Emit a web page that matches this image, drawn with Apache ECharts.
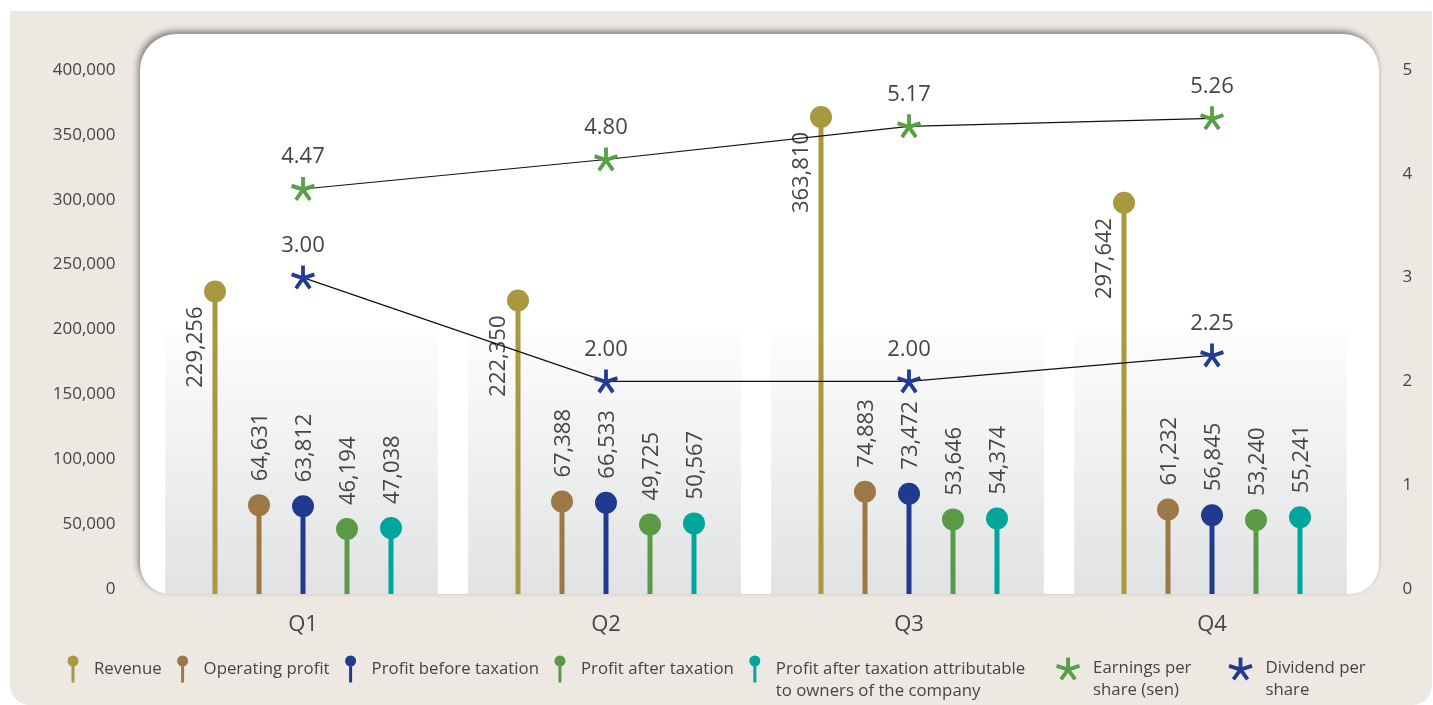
<!DOCTYPE html>
<html><head><meta charset="utf-8">
<script src="https://cdn.jsdelivr.net/npm/echarts@6/dist/echarts.min.js"></script>
<style>html,body{margin:0;padding:0;background:#fff;} #c{width:1433px;height:705px;}</style>
</head><body><div id="c"></div>
<script>
// ---- data ----
const categories = ['Q1', 'Q2', 'Q3', 'Q4'];
const revenue = [229256, 222350, 363810, 297642];
const operatingProfit = [64631, 67388, 74883, 61232];
const profitBeforeTax = [63812, 66533, 73472, 56845];
const profitAfterTax = [46194, 49725, 53646, 53240];
const profitAttributable = [47038, 50567, 54374, 55241];
const earningsPerShare = [4.47, 4.80, 5.17, 5.26];
const dividendPerShare = [3.00, 2.00, 2.00, 2.25];
const leftAxisTicks = { min: 0, max: 400000, step: 50000 };
const rightAxisTicks = { min: 0, max: 5, step: 1 };

// ---- styling ----
const FONT = '"Open Sans", "Noto Sans", sans-serif';
const TXT = '#454545';
const BAND_TOP = 200000;
const EPS_AXIS_MAX = 5.8;

function starBody(n, L, w) {
  let d = '';
  for (let k = 0; k < n; k++) {
    const a = k * 2 * Math.PI / n;
    const ux = Math.sin(a), uy = -Math.cos(a);
    const px = -uy, py = ux;
    const b = -w * 0.6;
    const pts = [
      [-px * w + ux * b, -py * w + uy * b],
      [px * w + ux * b, py * w + uy * b],
      [px * w + ux * L, py * w + uy * L],
      [-px * w + ux * L, -py * w + uy * L]
    ];
    d += 'M' + pts.map(p => p[0].toFixed(2) + ',' + p[1].toFixed(2)).join('L') + 'Z';
  }
  return d;
}
const STAR = 'path://' + starBody(5, 12, 1.9);
// legend icons: visible part at the top, an invisible zero-area point below so the
// icon lines up with the first line of a two-line legend text
const STAR_LEGEND = 'path://' + starBody(5, 12, 1.9) + 'M0,31.7L0.01,31.7Z';
const LOLLI_LEGEND = 'path://M0,5.5A5.5,5.5 0 1 1 11,5.5A5.5,5.5 0 1 1 0,5.5Z M4,6L7,6L7,27L4,27Z M5.5,49L5.51,49Z';

const lollipops = [
  { name: 'Revenue', data: revenue, color: '#a8993f', labelLeft: true },
  { name: 'Operating profit', data: operatingProfit, color: '#9c7846', labelLeft: false },
  { name: 'Profit before taxation', data: profitBeforeTax, color: '#1f3a8e', labelLeft: false },
  { name: 'Profit after taxation', data: profitAfterTax, color: '#5a9a47', labelLeft: false },
  { name: 'Profit after taxation attributable to owners of the company', data: profitAttributable, color: '#00a69c', labelLeft: false }
];

function lollipopRender(k, labelLeft) {
  return function (params, api) {
    const i = api.value(0), v = api.value(1);
    const catW = api.size([1, 0])[0];
    const dx = (k - 2) * catW * 0.1452;
    const top = api.coord([i, v]);
    const base = api.coord([i, 0]);
    const x = top[0] + dx, y = top[1];
    const color = api.visual('color');
    const txt = v.toLocaleString('en-US');
    const lab = labelLeft ? { x: x - 19, y: y + 15, align: 'right' } : { x: x + 2, y: y - 24, align: 'left' };
    return {
      type: 'group',
      children: [
        { type: 'rect', shape: { x: x - 2.5, y: y, width: 5, height: base[1] - y + 5 }, style: { fill: color } },
        { type: 'circle', shape: { cx: x, cy: y, r: 11 }, style: { fill: color } },
        { type: 'text', x: lab.x, y: lab.y, rotation: Math.PI / 2,
          style: { text: txt, fill: TXT, fontSize: 22, fontFamily: FONT, align: lab.align, verticalAlign: 'middle' } }
      ]
    };
  };
}

const series = [];
series.push({
  name: 'band', type: 'custom', xAxisIndex: 0, yAxisIndex: 0, silent: true, z: 1,
  data: categories.map((c, i) => [i, BAND_TOP]),
  renderItem: function (params, api) {
    const i = api.value(0);
    const w = api.size([1, 0])[0] * 0.9;
    const top = api.coord([i, api.value(1)]);
    const base = api.coord([i, 0]);
    return {
      type: 'rect',
      shape: { x: top[0] - w / 2 - 1.5, y: top[1], width: w, height: base[1] - top[1] + 5 },
      style: { fill: new echarts.graphic.LinearGradient(0, 0, 0, 1, [
        { offset: 0, color: '#fdfdfd' }, { offset: 1, color: '#e1e2e3' }]) }
    };
  }
});
lollipops.forEach((s, k) => {
  series.push({
    name: s.name, type: 'custom', xAxisIndex: 0, yAxisIndex: 0, z: 3,
    itemStyle: { color: s.color }, color: s.color,
    data: s.data.map((v, i) => [i, v]),
    renderItem: lollipopRender(k, s.labelLeft)
  });
});
const lineLabel = { show: true, position: 'top', distance: 9, fontSize: 22, fontFamily: FONT, color: TXT,
  formatter: p => Number(p.value).toFixed(2) };
series.push({
  name: 'Earnings per share (sen)', type: 'line', yAxisIndex: 2, data: earningsPerShare,
  symbol: STAR, symbolSize: 24, color: '#56a046', itemStyle: { color: '#56a046' },
  lineStyle: { color: '#111', width: 1.2 }, label: lineLabel, z: 6
});
series.push({
  name: 'Dividend per share', type: 'line', yAxisIndex: 1, data: dividendPerShare,
  symbol: STAR, symbolSize: 24, color: '#213c90', itemStyle: { color: '#213c90' },
  lineStyle: { color: '#111', width: 1.2 }, label: lineLabel, z: 6
});

const legendNames = {
  'Profit after taxation attributable to owners of the company': 'Profit after taxation attributable\nto owners of the company',
  'Earnings per share (sen)': 'Earnings per\nshare (sen)',
  'Dividend per share': 'Dividend per\nshare'
};
const legendText = n => legendNames[n] || (n + '\n ');

const option = {
  backgroundColor: '#ffffff',
  animation: false,
  textStyle: { fontFamily: FONT },
  graphic: [
    { type: 'rect', z: -20, silent: true, shape: { x: 10, y: 11, width: 1422, height: 694, r: [0, 0, 20, 20] }, style: { fill: '#ede8e2' } },
    { type: 'rect', z: -19, silent: true, shape: { x: 140, y: 34, width: 1239, height: 560, r: [36, 36, 30, 30] },
      style: { fill: '#ffffff', shadowBlur: 6, shadowOffsetX: -2, shadowOffsetY: -3, shadowColor: 'rgba(0,0,0,0.45)' } }
  ],
  grid: { left: 151.5, right: 69.5, top: 70, bottom: 116 },
  xAxis: [{
    type: 'category', data: categories,
    axisLine: { show: false }, axisTick: { show: false }, splitLine: { show: false },
    axisLabel: { fontSize: 22, color: TXT, margin: 25, fontFamily: FONT }
  }],
  yAxis: [
    { type: 'value', position: 'left', min: leftAxisTicks.min, max: leftAxisTicks.max, interval: leftAxisTicks.step,
      axisLine: { show: false }, axisTick: { show: false }, splitLine: { show: false },
      axisLabel: { fontSize: 17, color: TXT, margin: 36, fontFamily: FONT, formatter: v => v.toLocaleString('en-US') } },
    { type: 'value', position: 'right', min: rightAxisTicks.min, max: rightAxisTicks.max, interval: rightAxisTicks.step,
      axisLine: { show: false }, axisTick: { show: false }, splitLine: { show: false },
      axisLabel: { fontSize: 17, color: TXT, margin: 39, fontFamily: FONT } },
    { type: 'value', show: false, min: 0, max: EPS_AXIS_MAX, splitLine: { show: false } }
  ],
  legend: [
    {
      left: 67.5, top: 655.5, padding: 0, itemWidth: 32, itemHeight: 49, itemGap: 15.5,
      selectedMode: false, orient: 'horizontal',
      textStyle: { fontSize: 16.8, color: TXT, fontFamily: FONT, lineHeight: 22 },
      formatter: legendText,
      data: lollipops.map(s => ({ name: s.name, icon: LOLLI_LEGEND }))
    },
    {
      left: 1056, top: 657.5, padding: 0, itemWidth: 40, itemHeight: 44, itemGap: 37,
      selectedMode: false, orient: 'horizontal',
      textStyle: { fontSize: 16.8, color: TXT, fontFamily: FONT, lineHeight: 22 },
      formatter: legendText,
      data: [
        { name: 'Earnings per share (sen)', icon: STAR_LEGEND },
        { name: 'Dividend per share', icon: STAR_LEGEND }
      ]
    }
  ],
  series: series
};

const chart = echarts.init(document.getElementById('c'), null, { renderer: 'canvas' });
chart.setOption(option);
</script>
</body></html>
